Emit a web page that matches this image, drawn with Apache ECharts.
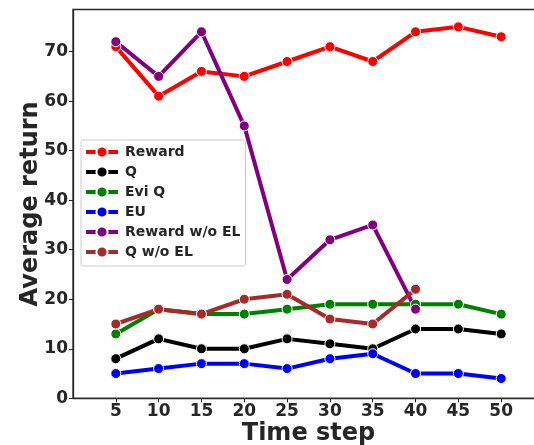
<!DOCTYPE html>
<html>
<head>
<meta charset="utf-8">
<script src="https://cdn.jsdelivr.net/npm/echarts@6/dist/echarts.min.js"></script>
<style>html,body{margin:0;padding:0;background:#fff;}#c{width:534px;height:445px;}</style>
</head>
<body>
<div id="c"></div>
<script>
const timeSteps = [5, 10, 15, 20, 25, 30, 35, 40, 45, 50];
const xTicks = [5, 10, 15, 20, 25, 30, 35, 40, 45, 50];
const yTicks = [0, 10, 20, 30, 40, 50, 60, 70];
const reward = [71, 61, 66, 65, 68, 71, 68, 74, 75, 73];
const qVals = [8, 12, 10, 10, 12, 11, 10, 14, 14, 13];
const eviQ = [13, 18, 17, 17, 18, 19, 19, 19, 19, 17];
const eu = [5, 6, 7, 7, 6, 8, 9, 5, 5, 4];
const rewardNoEL = [72, 65, 74, 55, 24, 32, 35, 18];
const qNoEL = [15, 18, 17, 20, 21, 16, 15, 22];

const seriesDefs = [
  { name: 'Reward', data: reward, color: '#ff0000' },
  { name: 'Q', data: qVals, color: '#000000' },
  { name: 'Evi Q', data: eviQ, color: '#008000' },
  { name: 'EU', data: eu, color: '#0000ff' },
  { name: 'Reward w/o EL', data: rewardNoEL, color: '#800080' },
  { name: 'Q w/o EL', data: qNoEL, color: '#a52a2a' }
];

const textColor = '#262626';
const font = 'DejaVu Sans';

const chart = echarts.init(document.getElementById('c'), null, { renderer: 'canvas' });
chart.setOption({
  animation: false,
  backgroundColor: '#ffffff',
  grid: {
    left: 73, top: 9.5, right: -10, bottom: 46.7,
    outerBoundsMode: 'none', containLabel: false,
    show: true, borderColor: '#262626', borderWidth: 1.3, backgroundColor: 'transparent'
  },
  xAxis: {
    type: 'value', min: 0, max: 55, interval: 5,
    name: 'Time step', nameLocation: 'middle', nameGap: 23, nameMoveOverlap: false,
    nameTextStyle: { fontFamily: font, fontWeight: 'bold', fontSize: 24, color: textColor },
    axisLine: { show: true, lineStyle: { color: '#262626', width: 1.3 } },
    axisTick: { show: true, length: 4, lineStyle: { color: '#262626', width: 1 }, customValues: xTicks },
    axisLabel: { customValues: xTicks, margin: 5, fontFamily: font, fontWeight: 'bold', fontSize: 17, color: textColor },
    splitLine: { show: false }
  },
  yAxis: {
    type: 'value', min: 0, max: 78.5, interval: 10,
    name: 'Average return', nameLocation: 'middle', nameGap: 30, nameMoveOverlap: false,
    nameTextStyle: { fontFamily: font, fontWeight: 'bold', fontSize: 24, color: textColor },
    axisLine: { show: true, lineStyle: { color: '#262626', width: 1.3 } },
    axisTick: { show: true, length: 4, lineStyle: { color: '#262626', width: 1 }, customValues: yTicks },
    axisLabel: { customValues: yTicks, margin: 5, fontFamily: font, fontWeight: 'bold', fontSize: 17, color: textColor },
    splitLine: { show: false }
  },
  legend: {
    orient: 'vertical', left: 81, top: 140,
    backgroundColor: '#ffffff', borderColor: '#cccccc', borderWidth: 1, borderRadius: 2,
    padding: [5, 5, 7, 3],
    itemWidth: 32, itemHeight: 14, itemGap: 6,
    lineStyle: { width: 4 },
    textStyle: { fontFamily: font, fontWeight: 'bold', fontSize: 14, lineHeight: 14, color: textColor, padding: [0, 0, 0, 2] },
    data: seriesDefs.map(s => s.name)
  },
  series: seriesDefs.map(s => ({
    name: s.name,
    type: 'line',
    data: s.data.map((v, i) => [timeSteps[i], v]),
    symbol: 'circle', symbolSize: 10,
    color: s.color,
    lineStyle: { width: 4, color: s.color },
    itemStyle: { color: s.color, borderColor: '#ffffff', borderWidth: 1 }
  }))
});
</script>
</body>
</html>
